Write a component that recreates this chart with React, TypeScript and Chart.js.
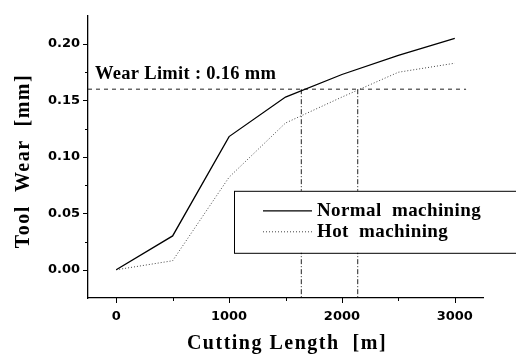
import React, { useEffect, useRef } from "react";
import { Chart, registerables } from "chart.js";
Chart.register(...registerables);

const cuttingLength = [0, 500, 1000, 1500, 2000, 2500, 3000];
const normalWear = [0, 0.03, 0.118, 0.153, 0.173, 0.19, 0.205];
const hotWear = [0, 0.008, 0.082, 0.13, 0.153, 0.175, 0.183];
const wearLimit = 0.16;
const limitLineX = [-250, 3100];
const limitCrossX = [1640, 2140];
const xTicks = [0, 1000, 2000, 3000];
const xMinorTicks = [500, 1500, 2500];
const yTicks = [0, 0.05, 0.1, 0.15, 0.2];
const yMinorTicks = [0.025, 0.075, 0.125, 0.175];
const xRange = [-250, 3250];
const yRange = [-0.025, 0.225];
const seriesLabels = ["Normal  machining", "Hot  machining"];
const limitLabel = "Wear Limit : 0.16 mm";
const xTitle = "Cutting Length  [m]";
const yTitle = "Tool  Wear  [mm]";

const SERIF = "'Liberation Serif', 'Times New Roman', serif";
const SANS = "'DejaVu Sans', sans-serif";

const decor = {
  id: "decor",
  afterDatasetsDraw(chart: any) {
    const { ctx, chartArea, scales } = chart;
    const xs = scales.x;
    const ys = scales.y;
    ctx.save();
    ctx.strokeStyle = "#000";
    ctx.lineWidth = 1;
    // ticks
    ctx.beginPath();
    xTicks.forEach((v) => {
      const px = Math.round(xs.getPixelForValue(v)) + 0.5;
      ctx.moveTo(px, chartArea.bottom);
      ctx.lineTo(px, chartArea.bottom + 5);
    });
    xMinorTicks.forEach((v) => {
      const px = Math.round(xs.getPixelForValue(v)) + 0.5;
      ctx.moveTo(px, chartArea.bottom);
      ctx.lineTo(px, chartArea.bottom + 3);
    });
    yTicks.forEach((v) => {
      const py = Math.round(ys.getPixelForValue(v)) + 0.5;
      ctx.moveTo(chartArea.left, py);
      ctx.lineTo(chartArea.left - 5, py);
    });
    yMinorTicks.forEach((v) => {
      const py = Math.round(ys.getPixelForValue(v)) + 0.5;
      ctx.moveTo(chartArea.left, py);
      ctx.lineTo(chartArea.left - 3, py);
    });
    ctx.stroke();

    // legend box
    const bx = chartArea.left + 146;
    const by = chartArea.top + 175;
    const bh = 62;
    ctx.fillStyle = "#fff";
    ctx.fillRect(bx, by, chart.width - bx + 5, bh);
    ctx.strokeRect(bx + 0.5, by + 0.5, chart.width - bx + 5, bh);

    const lx0 = bx + 29;
    const lx1 = bx + 78;
    const rows = [by + 20, by + 41];
    ctx.lineWidth = 1.2;
    ctx.setLineDash([]);
    ctx.beginPath();
    ctx.moveTo(lx0, rows[0]);
    ctx.lineTo(lx1, rows[0]);
    ctx.stroke();
    ctx.lineWidth = 1;
    ctx.strokeStyle = "#444";
    ctx.setLineDash([1, 2]);
    ctx.beginPath();
    ctx.moveTo(lx0, rows[1]);
    ctx.lineTo(lx1, rows[1]);
    ctx.stroke();
    ctx.setLineDash([]);

    ctx.fillStyle = "#000";
    ctx.font = `bold 19px ${SERIF}`;
    ctx.textBaseline = "middle";
    ctx.textAlign = "left";
    (ctx as any).letterSpacing = "0.4px";
    ctx.fillText(seriesLabels[0], lx1 + 5, rows[0]);
    ctx.fillText(seriesLabels[1], lx1 + 5, rows[1]);

    // wear limit label
    ctx.font = `bold 18.5px ${SERIF}`;
    (ctx as any).letterSpacing = "0.3px";
    ctx.fillText(limitLabel, chartArea.left + 7, chartArea.top + 58);

    // axis titles
    ctx.font = `bold 20px ${SERIF}`;
    (ctx as any).letterSpacing = "1.5px";
    ctx.textAlign = "center";
    ctx.fillText(xTitle, 287, 344);
    ctx.save();
    ctx.translate(24, 161);
    ctx.rotate(-Math.PI / 2);
    ctx.fillText(yTitle, 0, 0);
    ctx.restore();
    ctx.restore();
  },
};

export default function App() {
  const ref = useRef<HTMLCanvasElement>(null);
  useEffect(() => {
    if (!ref.current) return;
    const pts = (ys: number[]) => cuttingLength.map((x, i) => ({ x, y: ys[i] }));
    const chart = new Chart(ref.current, {
      type: "line",
      data: {
        datasets: [
          {
            label: seriesLabels[0],
            data: pts(normalWear),
            borderColor: "#000",
            borderWidth: 1.3,
            pointRadius: 0,
            tension: 0,
          },
          {
            label: seriesLabels[1],
            data: pts(hotWear),
            borderColor: "#444",
            borderWidth: 1,
            borderDash: [1, 2],
            pointRadius: 0,
            tension: 0,
          },
          {
            label: "limit",
            data: limitLineX.map((x) => ({ x, y: wearLimit })),
            borderColor: "#222",
            borderWidth: 1,
            borderDash: [4, 4],
            pointRadius: 0,
          },
          ...limitCrossX.map((x) => ({
            label: "cross",
            data: [
              { x, y: wearLimit },
              { x, y: yRange[0] },
            ],
            borderColor: "#222",
            borderWidth: 1,
            borderDash: [5, 2, 1, 2],
            pointRadius: 0,
          })),
        ],
      },
      options: {
        animation: false,
        responsive: false,
        devicePixelRatio: 1,
        layout: { padding: { left: 0, top: 10, right: 33, bottom: 0 } },
        plugins: { legend: { display: false }, tooltip: { enabled: false } },
        scales: {
          x: {
            type: "linear",
            min: xRange[0],
            max: xRange[1],
            afterBuildTicks: (s: any) => {
              s.ticks = xTicks.map((value) => ({ value }));
            },
            afterFit: (s: any) => {
              s.height = 64;
            },
            grid: { display: false, drawTicks: false },
            border: { display: true, color: "#000", width: 1.3 },
            ticks: {
              color: "#000",
              padding: 11,
              maxRotation: 0,
              font: { family: SANS, size: 13, weight: "bold" },
              callback: (v: any) => String(v),
            },
          },
          y: {
            type: "linear",
            min: yRange[0],
            max: yRange[1],
            afterBuildTicks: (s: any) => {
              s.ticks = yTicks.map((value) => ({ value }));
            },
            afterFit: (s: any) => {
              s.width = 88;
            },
            grid: { display: false, drawTicks: false },
            border: { display: true, color: "#000", width: 1.3 },
            ticks: {
              color: "#000",
              padding: 8,
              font: { family: SANS, size: 13, weight: "bold" },
              callback: (v: any) => Number(v).toFixed(2),
            },
          },
        },
      },
      plugins: [decor],
    });
    return () => chart.destroy();
  }, []);
  return (
    <div style={{ position: "fixed", left: 0, top: 0, width: 516, height: 362, background: "#fff" }}>
      <canvas ref={ref} width={516} height={362} />
    </div>
  );
}
